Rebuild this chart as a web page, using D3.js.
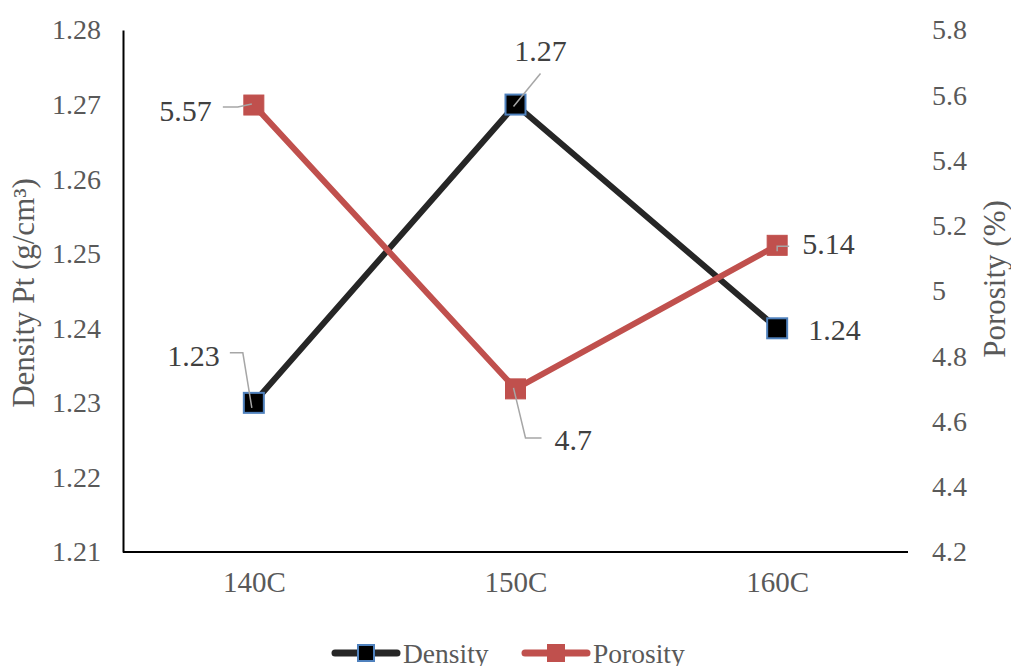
<!DOCTYPE html>
<html>
<head>
<meta charset="utf-8">
<script src="https://cdn.jsdelivr.net/npm/d3@7"></script>
<style>
  html, body { margin: 0; padding: 0; background: #fff; }
  svg { display: block; }
</style>
</head>
<body>
<svg id="chart" width="1011" height="666"></svg>
<script>
// Extrusion temperature vs. density and porosity
const categories = ["140C", "150C", "160C"];
const densityValues = [1.23, 1.27, 1.24];
const porosityValues = [5.57, 4.7, 5.14];
const densityTicks = [1.21, 1.22, 1.23, 1.24, 1.25, 1.26, 1.27, 1.28];
const porosityTicks = [4.2, 4.4, 4.6, 4.8, 5, 5.2, 5.4, 5.6, 5.8];

const FONT = "Liberation Serif, Times New Roman, Tinos, serif";
const svg = d3.select("#chart").attr("font-family", FONT);
const plot = { left: 123, right: 908, top: 30, bottom: 552 };

const x = d3.scalePoint().domain(categories).range([plot.left, plot.right]).padding(0.5);
const yL = d3.scaleLinear().domain([1.21, 1.28]).range([plot.bottom, plot.top]);
const yR = d3.scaleLinear().domain([4.2, 5.8]).range([plot.bottom, plot.top]);

const tickColor = "#595959";
const densityColor = "#262626";
const porosityColor = "#C0504D";
const markerEdge = "#4F81BD";
const tickSize = 28;

function styleTicks(g, size) {
  g.attr("font-family", FONT);
  g.selectAll("text").attr("font-size", size).attr("fill", tickColor)
    .attr("font-family", FONT);
}

// Left axis
const axL = d3.axisLeft(yL).tickValues(densityTicks).tickSize(0).tickPadding(22)
  .tickFormat(d3.format(".2f"));
const gL = svg.append("g").attr("transform", `translate(${plot.left},0)`).call(axL);
gL.select(".domain").attr("stroke", "#000").attr("stroke-width", 2);
styleTicks(gL, tickSize);

// Right axis (labels only)
const axR = d3.axisRight(yR).tickValues(porosityTicks).tickSize(0).tickPadding(24)
  .tickFormat(d => d3.format("~g")(d));
const gR = svg.append("g").attr("transform", `translate(${plot.right},0)`).call(axR);
gR.select(".domain").remove();
styleTicks(gR, tickSize);

// Bottom axis
const axB = d3.axisBottom(x).tickSize(0).tickPadding(19);
const gB = svg.append("g").attr("transform", `translate(0,${plot.bottom})`).call(axB);
gB.select(".domain").attr("stroke", "#000").attr("stroke-width", 2)
  .attr("d", `M${plot.left},0H${plot.right}`);
styleTicks(gB, 29);

// Axis titles
svg.append("text")
  .attr("transform", `translate(34,${(plot.top + plot.bottom) / 2 + 2}) rotate(-90)`)
  .attr("text-anchor", "middle").attr("font-size", 31).attr("fill", tickColor)
  .text("Density Pt (g/cm³)");
svg.append("text")
  .attr("transform", `translate(1005,${(plot.top + plot.bottom) / 2 - 12}) rotate(-90)`)
  .attr("text-anchor", "middle").attr("font-size", 31).attr("fill", tickColor)
  .text("Porosity (%)");

// Lines
const lineL = d3.line().x((d, i) => x(categories[i])).y(d => yL(d));
const lineR = d3.line().x((d, i) => x(categories[i])).y(d => yR(d));

svg.append("path").datum(densityValues).attr("d", lineL)
  .attr("fill", "none").attr("stroke", densityColor).attr("stroke-width", 6)
  .attr("stroke-linejoin", "round").attr("stroke-linecap", "round");
svg.append("path").datum(porosityValues).attr("d", lineR)
  .attr("fill", "none").attr("stroke", porosityColor).attr("stroke-width", 6)
  .attr("stroke-linejoin", "round").attr("stroke-linecap", "round");

// Data points in pixel space
const pts = {
  d0: [x(categories[0]), yL(densityValues[0])],
  d1: [x(categories[1]), yL(densityValues[1])],
  d2: [x(categories[2]), yL(densityValues[2])],
  p0: [x(categories[0]), yR(porosityValues[0])],
  p1: [x(categories[1]), yR(porosityValues[1])],
  p2: [x(categories[2]), yR(porosityValues[2])]
};

// Markers
const ms = 20;
svg.append("g").selectAll("rect").data(densityValues).join("rect")
  .attr("x", (d, i) => x(categories[i]) - ms / 2)
  .attr("y", d => yL(d) - ms / 2)
  .attr("width", ms).attr("height", ms)
  .attr("fill", "#000").attr("stroke", markerEdge).attr("stroke-width", 2);
svg.append("g").selectAll("rect").data(porosityValues).join("rect")
  .attr("x", (d, i) => x(categories[i]) - ms / 2)
  .attr("y", d => yR(d) - ms / 2)
  .attr("width", ms).attr("height", ms)
  .attr("fill", porosityColor).attr("stroke", porosityColor).attr("stroke-width", 1);

// Leader lines from labels to points
const leader = "#A6A6A6";
const leaders = [
  [[pts.p0[0] - 31, pts.p0[1] + 2], [pts.p0[0] - 16, pts.p0[1] + 2], [pts.p0[0] - 2, pts.p0[1] - 1]],
  [[pts.d1[0] + 25, pts.d1[1] - 31], [pts.d1[0] - 2, pts.d1[1] + 2]],
  [[pts.d0[0] - 24, pts.d0[1] - 50], [pts.d0[0] - 11, pts.d0[1] - 50], [pts.d0[0] - 2, pts.d0[1] + 5]],
  [[pts.p1[0] + 26, pts.p1[1] + 49], [pts.p1[0] + 10, pts.p1[1] + 49], [pts.p1[0] - 2, pts.p1[1] - 1]],
  [[pts.p2[0] + 12, pts.p2[1] + 1], [pts.p2[0], pts.p2[1] + 1], [pts.p2[0], pts.p2[1] + 6]]
];
svg.append("g").selectAll("path").data(leaders).join("path")
  .attr("d", d => d3.line()(d))
  .attr("fill", "none").attr("stroke", leader).attr("stroke-width", 1.5);

// Data labels
const labelColor = "#404040";
const labelFont = 30;
const labels = [
  { text: d3.format(".2f")(densityValues[0]), x: pts.d0[0] - 34, y: pts.d0[1] - 47, anchor: "end" },
  { text: d3.format(".2f")(densityValues[1]), x: pts.d1[0] + 25, y: pts.d1[1] - 54, anchor: "middle" },
  { text: d3.format(".2f")(densityValues[2]), x: pts.d2[0] + 31, y: pts.d2[1] + 1, anchor: "start" },
  { text: d3.format("~g")(porosityValues[0]), x: pts.p0[0] - 42, y: pts.p0[1] + 5, anchor: "end" },
  { text: d3.format("~g")(porosityValues[1]), x: pts.p1[0] + 39, y: pts.p1[1] + 51, anchor: "start" },
  { text: d3.format("~g")(porosityValues[2]), x: pts.p2[0] + 25, y: pts.p2[1] - 2, anchor: "start" }
];
svg.append("g").selectAll("text").data(labels).join("text")
  .attr("x", d => d.x).attr("y", d => d.y)
  .attr("text-anchor", d => d.anchor).attr("dominant-baseline", "central")
  .attr("font-size", labelFont).attr("fill", labelColor)
  .text(d => d.text);

// Legend
const legend = svg.append("g").attr("transform", "translate(0,653)");
const items = [
  { name: "Density", x0: 335, color: densityColor, fill: "#000", edge: markerEdge },
  { name: "Porosity", x0: 525, color: porosityColor, fill: porosityColor, edge: porosityColor }
];
items.forEach(it => {
  legend.append("line").attr("x1", it.x0).attr("x2", it.x0 + 62).attr("y1", 0).attr("y2", 0)
    .attr("stroke", it.color).attr("stroke-width", 7).attr("stroke-linecap", "round");
  legend.append("rect").attr("x", it.x0 + 31 - 8).attr("y", -8).attr("width", 16).attr("height", 16)
    .attr("fill", it.fill).attr("stroke", it.edge).attr("stroke-width", 2);
  legend.append("text").attr("x", it.x0 + 68).attr("y", 0).attr("dominant-baseline", "central")
    .attr("font-size", 27.5).attr("fill", tickColor).text(it.name);
});
</script>
</body>
</html>
